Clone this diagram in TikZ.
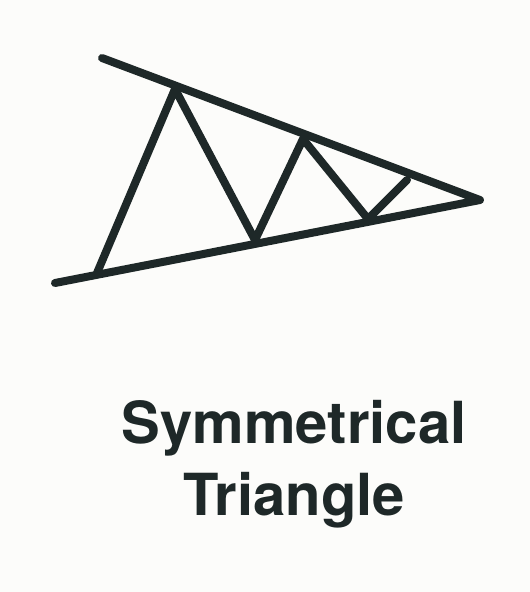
\documentclass[tikz,border=0pt]{standalone}
\usepackage{fontspec}
\setmainfont{TeX Gyre Heros}
\usetikzlibrary{positioning}
\definecolor{ink}{HTML}{1E2828}
\definecolor{paper}{HTML}{FCFCFA}

\begin{document}
\begin{tikzpicture}[x=1pt,y=-1pt]
    \tikzstyle{trend}=[draw=ink,line width=8,line cap=round,line join=round]
    \tikzstyle{title}=[text=ink,font=\fontsize{58}{72}\selectfont\bfseries,align=center,inner sep=0]
    \fill[paper] (0,0) rectangle (530,592);
    \useasboundingbox (0,0) rectangle (530,592);
    {
        % resistance and support lines
        \coordinate (upper) at (102, 58);
        \coordinate (lower) at (55, 283);
        \coordinate (apex) at (480, 200);
        % swings inside the triangle
        \coordinate (b1) at (97, 273);
        \coordinate (t1) at (175, 89);
        \coordinate (b2) at (255, 240);
        \coordinate (t2) at (303, 139);
        \coordinate (b3) at (368, 219);
        \coordinate (t3) at (407, 180);

        \draw[trend] (upper) -- (apex) -- (lower);
        \draw[trend] (b1) -- (t1) -- (b2) -- (t2) -- (b3) -- (t3);

        \node[title] (label) at (294, 464) {Symmetrical\\Triangle};
    }
\end{tikzpicture}
\end{document}
